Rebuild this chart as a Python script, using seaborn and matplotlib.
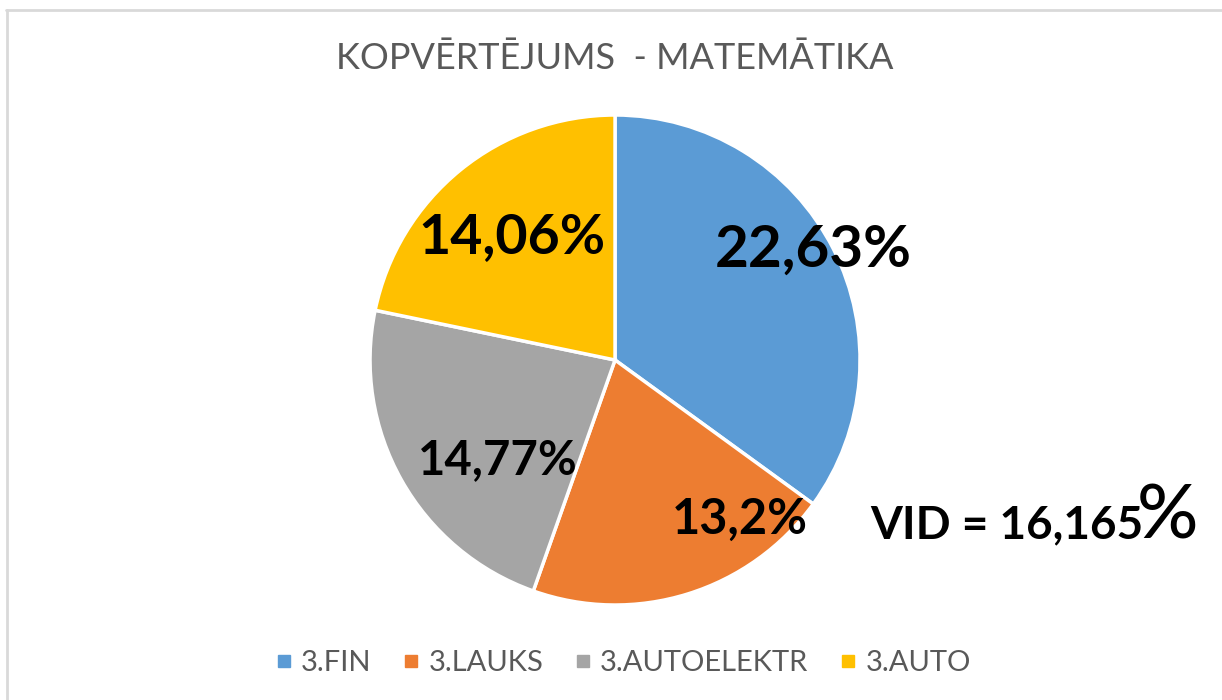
import matplotlib
matplotlib.use("Agg")
import matplotlib.pyplot as plt
from matplotlib.lines import Line2D
import seaborn as sns

sns.set_theme(style="white")
plt.rcParams['font.family'] = ['Lato', 'DejaVu Sans']

# dati
categories = ["3.FIN", "3.LAUKS", "3.AUTOELEKTR", "3.AUTO"]
values = [22.63, 13.2, 14.77, 14.06]
value_labels = ["22,63%", "13,2%", "14,77%", "14,06%"]
title = "KOPVĒRTĒJUMS  - MATEMĀTIKA"
vid_text = "VID = 16,165"

# stils
colors = ["#5B9BD5", "#ED7D31", "#A5A5A5", "#FFC000"]
label_xy = [(0.81, 0.45), (0.51, -0.65), (-0.48, -0.41), (-0.42, 0.50)]
label_size = [42, 35, 34, 40]
grey_txt = "#595959"

fig = plt.figure(figsize=(12.22, 7.0), dpi=100)
ax = fig.add_axes([0.3028, 0.1357, 0.401, 0.70])

ax.pie(values, colors=colors, startangle=90, counterclock=False,
       wedgeprops=dict(edgecolor="white", linewidth=2.5))
ax.set_xlim(-1, 1)
ax.set_ylim(-1, 1)

for (x, y), txt, fs in zip(label_xy, value_labels, label_size):
    ax.text(x, y, txt, ha="center", va="center", fontsize=fs,
            fontweight="bold", color="black")

fig.text(0.503, 0.917, title, ha="center", va="center", fontsize=26,
         color=grey_txt, fontweight="normal")

# VID teksts ar lielaku % zimi
fig.text(0.7125, 0.231, vid_text, ha="left", va="baseline", fontsize=33,
         fontweight="bold", color="black")
fig.text(0.930, 0.231, "%", ha="left", va="baseline", fontsize=55,
         fontweight="medium", color="black")

handles = [Line2D([0], [0], marker="s", linestyle="", markersize=9,
                  markerfacecolor=c, markeredgecolor=c) for c in colors]
fig.legend(handles, categories, loc="center", bbox_to_anchor=(0.506, 0.053),
           ncol=4, frameon=False, fontsize=21, handletextpad=0.0,
           handlelength=1.2, columnspacing=0.75, labelcolor=grey_txt)

# ramis
fig.add_artist(Line2D([6 / 1222, 1], [1 - 9.5 / 700, 1 - 9.5 / 700],
                      color="#D9D9D9", linewidth=2, transform=fig.transFigure))
fig.add_artist(Line2D([6.5 / 1222, 6.5 / 1222], [0, 1 - 9.5 / 700],
                      color="#D9D9D9", linewidth=2, transform=fig.transFigure))

fig.savefig("out.png", dpi=100)
